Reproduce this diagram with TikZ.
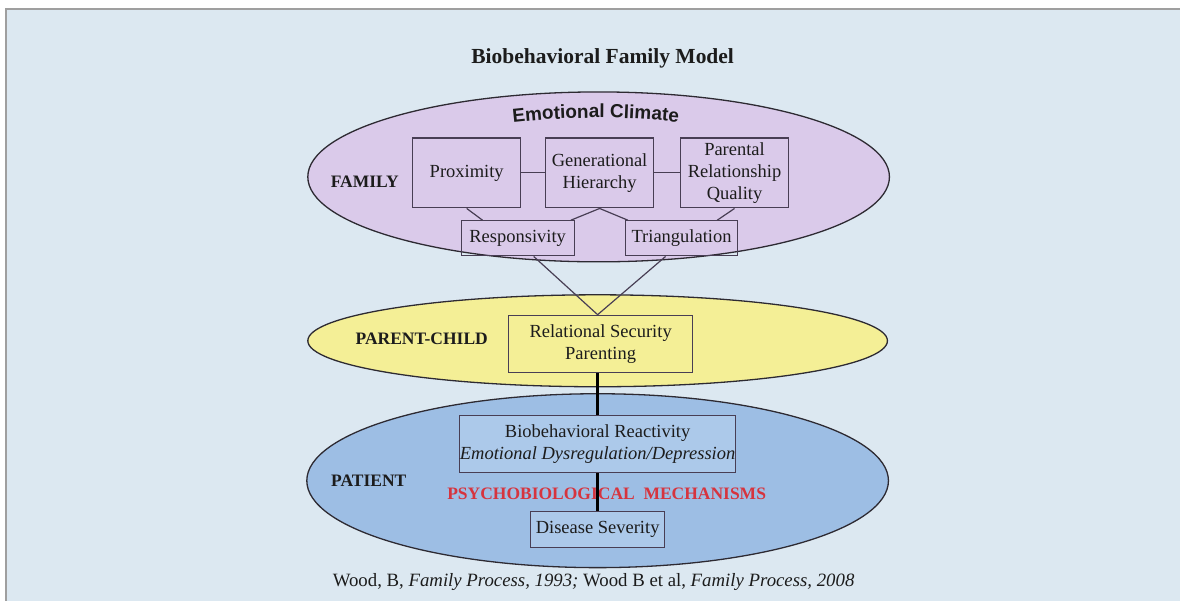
\documentclass[tikz,border=0pt]{standalone}
\usepackage{fontspec}
\setmainfont{Liberation Serif}
\newfontfamily\climatefont{Liberation Sans}
\usetikzlibrary{decorations.text}
\definecolor{panel}{RGB}{220,232,241}
\definecolor{lilac}{RGB}{218,202,234}
\definecolor{lemon}{RGB}{244,239,150}
\definecolor{sky}{RGB}{157,190,228}
\definecolor{skylight}{RGB}{172,201,234}
\definecolor{ink}{RGB}{28,28,28}
\definecolor{boxline}{RGB}{72,62,84}
\definecolor{rim}{RGB}{45,42,50}
\definecolor{mechred}{RGB}{214,52,62}

\begin{document}
\begin{tikzpicture}[x=1pt,y=1pt,
  box/.style={draw=boxline,line width=1.2pt,inner sep=0pt,align=center,text=ink,font=\fontsize{18.5}{22}\selectfont},
  level/.style={text=ink,font=\bfseries\fontsize{17.5}{20}\selectfont},
  layer/.style={draw=rim,line width=1.3pt},
  link/.style={draw=boxline,line width=1.2pt},
  stem/.style={draw=black,line width=3pt}]
\fill[white] (0,0) rectangle (1181,601);
\fill[panel] (6,0) rectangle (1181,592);
\draw[gray!75,line width=1.5pt] (6,0) -- (6,592) -- (1181,592);
\useasboundingbox (0,0) rectangle (1181,601);

\node[text=ink,font=\bfseries\fontsize{21.5}{24}\selectfont] (title) at (603,543) {Biobehavioral Family Model};

\draw[layer,fill=lilac] (599,424) ellipse[x radius=291pt,y radius=85pt];
\draw[layer,fill=lemon] (598,260) ellipse[x radius=290pt,y radius=46pt];
\draw[layer,fill=sky] (598,120) ellipse[x radius=291pt,y radius=87pt];

\path[decorate,decoration={text along path,text align=center,
  text={|\climatefont\bfseries\fontsize{19}{19}\selectfont\color{ink}|Emotional Climate}}]
  (505.6,477.5) arc[start angle=97,end angle=83,radius=742pt];

\node[level] (family) at (365,419) {FAMILY};
\node[level] (parentchild) at (422,262) {PARENT-CHILD};
\node[level] (patient) at (369,120) {PATIENT};

\node[box,minimum width=108pt,minimum height=70pt] (prox) at (467,428) {Proximity};
\node[box,minimum width=108pt,minimum height=70pt] (gen) at (600,428) {Generational\\Hierarchy};
\node[box,minimum width=108pt,minimum height=70pt] (par) at (735,428) {Parental\\Relationship\\Quality};
\node[box,minimum width=113pt,minimum height=35pt] (resp) at (518,362.5) {Responsivity};
\node[box,minimum width=112pt,minimum height=35pt] (tri) at (682,362.5) {Triangulation};
\node[box,minimum width=184pt,minimum height=57pt] (rel) at (601,257) {Relational Security\\Parenting};
\node[text=mechred,font=\bfseries\fontsize{17.5}{20}\selectfont] (mech) at (607,107) {PSYCHOBIOLOGICAL\ \ MECHANISMS};
\node[box,fill=skylight,minimum width=276pt,minimum height=57pt] (bio) at (598,156.5) {Biobehavioral Reactivity\\\itshape Emotional Dysregulation/Depression};
\node[box,fill=skylight,minimum width=134pt,minimum height=36pt] (sev) at (598,71) {Disease Severity};

\draw[link] (prox) -- (gen);
\draw[link] (gen) -- (par);
\draw[link] (prox.south) -- ([xshift=22pt]resp.north west);
\draw[link] ([xshift=-4pt]resp.north east) -- (gen.south) -- ([xshift=3pt]tri.north west);
\draw[link] (par.south) -- ([xshift=-21pt]tri.north east);
\draw[link] ([xshift=16pt]resp.south) -- ([xshift=-3pt]rel.north) -- ([xshift=-16pt]tri.south);
\draw[stem] ([xshift=-3pt]rel.south) -- (bio.north);
\draw[stem] (bio.south) -- (sev.north);

\node[text=ink,font=\fontsize{18.8}{21}\selectfont] (cite) at (594,19)
  {Wood, B, \textit{Family Process, 1993;} Wood B et al, \textit{Family Process, 2008}};
\end{tikzpicture}
\end{document}
